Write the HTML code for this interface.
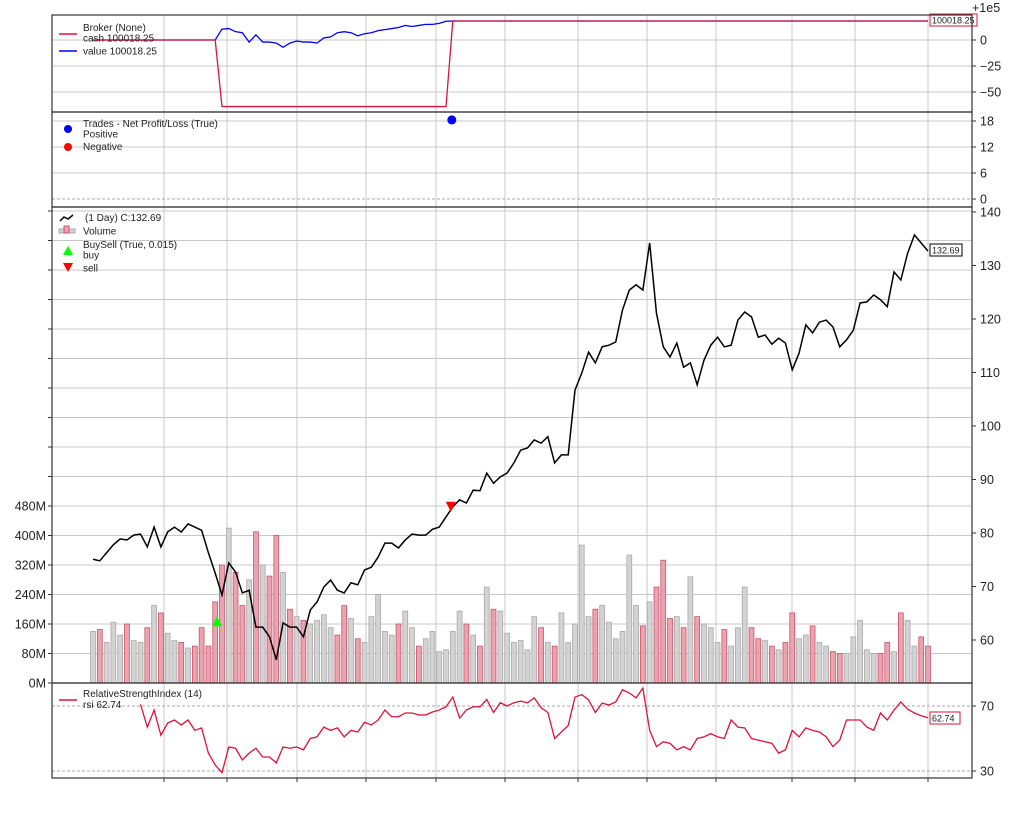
<!DOCTYPE html>
<html><head><meta charset="utf-8">
<style>
html,body{margin:0;padding:0;background:#fff;}
svg{display:block;font-family:"Liberation Sans","DejaVu Sans",sans-serif;}
</style></head>
<body>
<svg id="chart" width="1024" height="819" viewBox="0 0 1024 819" xmlns="http://www.w3.org/2000/svg"></svg>
<script>
// ---- data ----
const closes = [75.1,74.8,76.3,77.8,78.9,78.7,79.6,79.8,77.4,81.1,
77.4,80.2,81.1,80.2,81.7,81.1,80.5,76.3,72.5,68.4,
74.4,72.7,68.8,69.3,62.4,62.4,60.6,56.3,63.2,62.4,
62.4,60.6,65.6,67.1,69.9,71.2,69.3,68.8,70.7,70.3,
73.1,73.6,75.5,78.1,78.1,77.2,78.7,79.8,79.6,79.6,
80.7,81.1,83.0,84.9,86.2,85.6,88.0,87.9,91.2,89.3,
90.5,91.2,93.1,95.5,95.9,97.4,
96.8,98.0,93.1,94.6,94.6,106.7,109.9,113.8,111.8,114.8,
115.1,115.7,121.7,125.4,126.4,125.4,134.2,121.1,114.8,112.9,
115.5,111.0,111.8,107.7,112.3,115.1,116.6,114.8,115.1,119.8,
121.3,120.4,116.6,117.0,115.3,116.4,115.5,110.5,113.6,118.9,
117.4,119.4,119.8,118.5,114.8,116.1,117.9,123.0,123.2,124.5,
123.6,122.3,128.8,127.3,132.3,135.7,134.2,132.69];
const volumes = [140,145,110,165,130,160,115,110,150,210,
190,135,115,110,95,100,150,100,220,320,
420,300,210,280,410,320,290,400,300,200,
180,170,160,170,185,150,130,210,175,120,
110,180,240,140,130,160,195,150,100,120,
140,85,90,140,195,160,130,100,260,200,
195,135,110,115,90,180,
150,110,100,190,110,160,374,180,200,210,
165,120,140,347,210,155,220,260,333,175,
180,150,288,180,160,150,110,145,100,150,
260,150,120,115,100,90,110,190,120,130,
155,110,100,85,80,80,125,170,90,80,
80,110,85,190,170,100,125,100];
const rsiValues = [71,57,67.5,52,59.5,61.4,58.3,61.4,55,56.5,
41,33.7,29,44.8,44,36.8,41,44,38.6,38.6,
35,44.8,44,44.8,43,50,51,57,55,56.5,
51,55,54,60,58.3,61.4,67.5,63.4,63.4,65.7,
65.7,64.5,64.5,66.3,67.5,69.5,75.5,62.6,67.5,69.5,
69.5,74,66,72,70,72,73,72,
75,69,66,50,54,58,75.5,77,73.7,66,
71.8,70.6,72.5,80,78,75,81,55,45,48,
47,43,45,43,50,51,53,51,50,61.4,
57,56.5,50,49,48,47,41,43,55,51,
56.5,55,54,51,45,49,61.4,61.4,61.4,57,
55,65.7,61.4,67.5,72.5,68,65.7,64,62.74];
const rsiStart = 7;
const valueSeg = [10.5,11,8,7,-2,5,-2,-2,-3,-7,-3,-1,-2,-2,-3,2,3,7,8,7,4,6,7,9,10,11,12,14,13,14,15,15,16,18];
const inPosStart = 19;
const cashInPos = -64;
const finalBroker = 18.25;
const tradeIdx = [53];
const tradePnl = [18.25];
const buyIdx = [19];
const buyPrice = [63.5];
const sellIdx = [53];
const sellPrice = [84.9];
const priceTicks = [140,130,120,110,100,90,80,70,60];
const volTicks = [0,80,160,240,320,400,480];
const volLabels = ["0M","80M","160M","240M","320M","400M","480M"];
const brokerTicks = [0,-25,-50];
const tradeTicks = [0,6,12,18];
const rsiTicks = [70,30];
const dateGridX = [164,227,297,366,436,505,578,647,716,792,855,928];

// ---- scales ----
const L=52,R=972;
const x0=93,x1=928,N=closes.length;
const X=i=>x0+i*(x1-x0)/(N-1);
const yPrice=p=>212+(140-p)*5.35;
const yVol=v=>683-v*29.5/80;
const yBrk=v=>40-v*1.04;
const yTrd=v=>199-v*(78/18);
const yRsi=r=>706+(70-r)*1.625;
const TF=12.5, LF=10;

const svg=document.getElementById('chart');
const NS='http://www.w3.org/2000/svg';
function mk(tag,attrs,parent){const e=document.createElementNS(NS,tag);for(const k in attrs)e.setAttribute(k,attrs[k]);(parent||svg).appendChild(e);return e;}
function txt(s,x,y,attrs,parent){const t=mk('text',Object.assign({x:x,y:y,'font-size':11,fill:'#222'},attrs||{}),parent);t.textContent=s;return t;}

const panels=[{t:15,b:112,n:'broker-panel'},{t:112,b:207,n:'trades-panel'},{t:207,b:683,n:'price-panel'},{t:683,b:778,n:'rsi-panel'}];

panels.forEach(p=>{
  dateGridX.forEach(gx=>{
    const l=mk('line',{x1:gx,x2:gx,y1:p.t,y2:p.b,stroke:'#c8c8c8','stroke-width':1});
    
    
  });
});
dateGridX.forEach(gx=>{mk('line',{x1:gx,x2:gx,y1:778,y2:782,stroke:'#333'});});

// ---- broker panel ----
brokerTicks.forEach(v=>{
  mk('line',{x1:L,x2:R,y1:yBrk(v),y2:yBrk(v),stroke:'#c8c8c8'});
  mk('line',{x1:R,x2:R+4,y1:yBrk(v),y2:yBrk(v),stroke:'#333'});
  const t=txt((v<0?'\u2212':'')+Math.abs(v),R+8,yBrk(v)+4.5,{'font-size':TF});
  
  
});
txt('+1e5',R,12,{'font-size':TF});
let cashPts=[],valPts=[];
for(let i=0;i<N;i++){
  let c,v;
  if(i<inPosStart){c=0;v=0;}
  else if(i<inPosStart+valueSeg.length){c=cashInPos;v=valueSeg[i-inPosStart];}
  else {c=finalBroker;v=finalBroker;}
  cashPts.push(X(i)+','+yBrk(c));valPts.push(X(i)+','+yBrk(v));
}
const valLine=mk('polyline',{points:valPts.join(' '),fill:'none',stroke:'#0000ff','stroke-width':1.3});


const cashLine=mk('polyline',{points:cashPts.join(' '),fill:'none',stroke:'#dc143c','stroke-width':1.3});


const bl=mk('rect',{x:930,y:14,width:47,height:12,fill:'#fff',stroke:'#dc143c','stroke-width':1});


txt('100018.25',932,23.5,{'font-size':9});

// ---- trades panel ----
tradeTicks.forEach(v=>{
  mk('line',{x1:L,x2:R,y1:yTrd(v),y2:yTrd(v),stroke:v===0?'#aaa':'#c8c8c8','stroke-dasharray':v===0?'3,2':'none'});
  mk('line',{x1:R,x2:R+4,y1:yTrd(v),y2:yTrd(v),stroke:'#333'});
  const t=txt(String(v),R+8,yTrd(v)+4.5,{'font-size':TF});
  
  
});
tradeIdx.forEach((ti,k)=>{
  const c=mk('circle',{cx:X(ti)-1,cy:yTrd(tradePnl[k]),r:4.5,fill:tradePnl[k]>=0?'#0000ff':'#ff0000'});
  
  
});

// ---- price panel ----
for(let v=0;yVol(v)>=208;v+=80){
  mk('line',{x1:L,x2:R,y1:yVol(v),y2:yVol(v),stroke:'#c8c8c8'});
  mk('line',{x1:L-4,x2:L,y1:yVol(v),y2:yVol(v),stroke:'#333'});
}
volTicks.forEach((v,k)=>{
  const t=txt(volLabels[k],46,yVol(v)+4.5,{'font-size':TF,'text-anchor':'end'});
  
  
});
priceTicks.forEach(p=>{
  mk('line',{x1:R,x2:R+4,y1:yPrice(p),y2:yPrice(p),stroke:'#333'});
  const t=txt(String(p),R+8,yPrice(p)+4.5,{'font-size':TF});
  
  
});
const bw=(x1-x0)/(N-1)*0.72;
volumes.forEach((v,i)=>{
  const down=i>0&&closes[i]<closes[i-1];
  const r=mk('rect',{x:X(i)-bw/2,y:yVol(v),width:bw,height:683-yVol(v),fill:down?'#e8a5b0':'#d3d3d3',stroke:down?'#d0506a':'#a9a9a9','stroke-width':0.8});
  
  
});
const pl=mk('polyline',{points:closes.map((c,i)=>X(i)+','+yPrice(c)).join(' '),fill:'none',stroke:'#000','stroke-width':1.5});


buyIdx.forEach((bi,k)=>{
  const bx=X(bi)-5,by=yPrice(buyPrice[k]);
  const m=mk('polygon',{points:`${bx-5},${by+5} ${bx+5},${by+5} ${bx},${by-5}`,fill:'#00ff00'});
  
  
});
sellIdx.forEach((si,k)=>{
  const sx=X(si)-2,sy=yPrice(sellPrice[k]);
  const m=mk('polygon',{points:`${sx-5},${sy-5} ${sx+5},${sy-5} ${sx},${sy+5}`,fill:'#ff0000'});
  
  
});
const pb=mk('rect',{x:930,y:244,width:32,height:12,fill:'#fff',stroke:'#000','stroke-width':1});


txt('132.69',932,253.5,{'font-size':9});

// ---- rsi panel ----
rsiTicks.forEach(r=>{
  mk('line',{x1:L,x2:R,y1:yRsi(r),y2:yRsi(r),stroke:'#aaa','stroke-dasharray':'3,2'});
  mk('line',{x1:R,x2:R+4,y1:yRsi(r),y2:yRsi(r),stroke:'#333'});
  const t=txt(String(r),R+8,yRsi(r)+4.5,{'font-size':TF});
  
  
});
const rl=mk('polyline',{points:rsiValues.map((r,i)=>X(i+rsiStart)+','+yRsi(r)).join(' '),fill:'none',stroke:'#dc143c','stroke-width':1.3});


const rb=mk('rect',{x:930,y:712,width:30,height:12,fill:'#fff',stroke:'#dc143c','stroke-width':1});


txt('62.74',932,721.5,{'font-size':9});

panels.forEach(p=>{
  const b=mk('rect',{x:L,y:p.t,width:R-L,height:p.b-p.t,fill:'none',stroke:'#333','stroke-width':1.2});
  
  
});

// legends
function legLine(x,y,color,name){
  const g=mk('g',{});
  
  
  mk('line',{x1:x,x2:x+18,y1:y,y2:y,stroke:color,'stroke-width':1.5},g);
  return g;
}
let g=legLine(59,34,'#dc143c','legend-cash');
txt('Broker (None)',83,31,{'font-size':LF},g);txt('cash 100018.25',83,41.5,{'font-size':LF},g);
g=legLine(59,51,'#0000ff','legend-value');
txt('value 100018.25',83,54.5,{'font-size':LF},g);
g=mk('g',{});
mk('circle',{cx:68,cy:129,r:4,fill:'#0000ff'},g);mk('circle',{cx:68,cy:147,r:4,fill:'#ff0000'},g);
txt('Trades - Net Profit/Loss (True)',83,127,{'font-size':LF},g);txt('Positive',83,137.5,{'font-size':LF},g);txt('Negative',83,150,{'font-size':LF},g);
g=mk('g',{});
mk('polyline',{points:'60,221 64,217 68,219 73,215',fill:'none',stroke:'#000','stroke-width':1.5},g);
txt(' (1 Day) C:132.69',85,221,{'font-size':LF},g);
mk('rect',{x:59,y:229,width:16,height:4,fill:'#d3d3d3',stroke:'#aaa'},g);
mk('rect',{x:64,y:226,width:5,height:7,fill:'#e8a5b0',stroke:'#d0506a'},g);
txt('Volume',83,234.5,{'font-size':LF},g);
mk('polygon',{points:'63,255 73,255 68,246',fill:'#00ff00'},g);
txt('BuySell (True, 0.015)',83,248,{'font-size':LF},g);txt('buy',83,258.5,{'font-size':LF},g);
mk('polygon',{points:'63,263 73,263 68,272',fill:'#ff0000'},g);
txt('sell',83,271.5,{'font-size':LF},g);
g=legLine(59,700,'#dc143c','legend-rsi');
txt('RelativeStrengthIndex (14)',83,697,{'font-size':LF},g);txt('rsi 62.74',83,708,{'font-size':LF},g);
</script>
</body></html>
